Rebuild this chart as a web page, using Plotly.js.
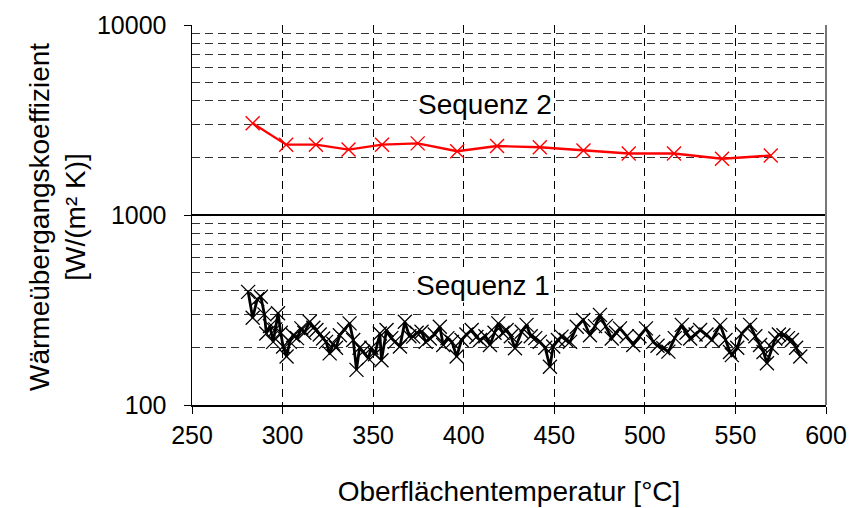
<!DOCTYPE html>
<html>
<head>
<meta charset="utf-8">
<script src="https://cdn.plot.ly/plotly-3.0.1.min.js"></script>
<style>html,body{margin:0;padding:0;background:#fff;}#chart{width:853px;height:508px;}</style>
</head>
<body>
<div id="chart"></div>
<script>
// Sequenz 2 (red)
var seq2X = [283.5, 302, 318.4, 336.4, 354.9, 374.6, 396.4, 418.4, 442, 466.1, 491.1, 516.1, 542.6, 569.5];
var seq2Y = [3036, 2345, 2345, 2209, 2345, 2382, 2165, 2307, 2271, 2183, 2106, 2106, 1976, 2056];

// Sequenz 1 (black)
var seq1X = [281, 283.5, 286, 288, 290, 291, 293, 294.8, 296, 297.5, 299, 300.3, 302.2, 304, 305.8, 308, 310.4, 312, 315, 317,
  318.7, 320.5, 322.4, 324, 326, 328, 329.5, 331.6, 334, 337, 339, 340.8, 342.5, 344.5, 347.3, 349, 351, 353.7, 354.6, 357.4,
  360, 362, 364.8, 367.5, 370, 372.1, 374, 376.7, 379, 381.3, 384, 386.8, 388.7, 391, 393.5, 396.1, 398.8, 401.5, 404.4, 407,
  409, 412, 414.5, 417, 419.1, 421.5, 423.7, 426, 428.3, 432, 434.7, 437, 439.5, 442, 445, 447.6, 449.4, 452, 454, 456.5,
  458.7, 462.4, 466, 469.7, 472.5, 475.2, 478.5, 481.7, 484, 486.3, 490, 493.6, 497, 500.6, 504.6, 507, 510.2, 513, 516.5, 520.4,
  523, 525, 528, 530.5, 534, 537, 541.6, 544.5, 547, 548, 551, 553.5, 558.1, 561, 563.6, 565.5, 567.4, 570, 572, 574,
  576.5, 579, 581.2, 583.5, 585.8];
var seq1Y = [394, 288, 360, 371, 300, 238, 260, 215, 250, 304, 240, 203, 180, 215, 233, 225, 253, 240, 274, 255,
  248, 235, 224, 215, 187, 210, 200, 233, 250, 269, 220, 153, 200, 191, 176, 200, 185, 238, 172, 248,
  225, 215, 203, 274, 230, 229, 240, 243, 215, 224, 235, 258, 207, 225, 215, 180, 220, 235, 248, 228,
  220, 230, 207, 240, 269, 240, 248, 230, 199, 243, 264, 230, 225, 215, 200, 159, 203, 220, 229, 220,
  215, 258, 280, 233, 260, 298, 260, 224, 240, 253, 230, 207, 230, 253, 215, 205, 199, 191, 225, 264,
  240, 224, 235, 248, 235, 220, 264, 220, 190, 183, 200, 238, 264, 230, 207, 190, 166, 200, 224, 235,
  233, 225, 220, 200, 180];

var yTickVals = [100, 1000, 10000];
var yTickText = ['100', '1000', '10000'];
var yMinorVals = [200, 300, 400, 500, 600, 700, 800, 900, 2000, 3000, 4000, 5000, 6000, 7000, 8000, 9000];
var xTickVals = [250, 300, 350, 400, 450, 500, 550, 600];

var font = 'Liberation Sans, Arial, sans-serif';
var tickSize = 25;
var titleSize = 28;

var traces = [
  {
    x: seq1X, y: seq1Y, type: 'scatter', mode: 'lines+markers', name: 'Sequenz 1',
    line: {color: '#000', width: 2.8},
    marker: {symbol: 'x-thin', size: 14, line: {color: '#000', width: 1.3}}
  },
  {
    x: seq2X, y: seq2Y, type: 'scatter', mode: 'lines+markers', name: 'Sequenz 2',
    line: {color: '#ff0000', width: 2.4},
    marker: {symbol: 'x-thin', size: 14, line: {color: '#ff0000', width: 1.4}}
  }
];

var layout = {
  width: 853, height: 508,
  margin: {l: 192, r: 27, t: 25, b: 103},
  paper_bgcolor: '#fff', plot_bgcolor: '#fff',
  showlegend: false,
  font: {family: font, color: '#000', size: tickSize},
  xaxis: {
    range: [250, 600], tickmode: 'array', tickvals: xTickVals,
    ticks: 'outside', ticklen: 7, tickcolor: '#000', tickwidth: 1,
    showline: true, linecolor: '#000', linewidth: 1.5,
    showgrid: true, gridcolor: '#000', gridwidth: 1, griddash: '8px,5px',
    zeroline: false,
    tickfont: {family: font, size: tickSize, color: '#000'},
    title: {text: 'Oberflächentemperatur [°C]', font: {family: font, size: titleSize, color: '#000'}, standoff: 34}
  },
  yaxis: {
    type: 'log', range: [2, 4], tickmode: 'array', tickvals: yTickVals, ticktext: yTickText,
    ticks: 'outside', ticklen: 7, tickcolor: '#000', tickwidth: 1,
    ticklabelstandoff: 12,
    showline: true, linecolor: '#000', linewidth: 1.5,
    showgrid: true, gridcolor: '#000', gridwidth: 1.2,
    zeroline: false,
    tickfont: {family: font, size: tickSize, color: '#000'},
    minor: {tickmode: 'array', tickvals: yMinorVals, showgrid: true, gridcolor: '#333', gridwidth: 1, griddash: '8px,5px', ticks: ''}
  },
  shapes: [
    {type: 'line', xref: 'paper', yref: 'paper', x0: 1, x1: 1, y0: 0, y1: 1, line: {color: '#777', width: 2}}
  ],
  annotations: [
    {text: 'Sequenz 2', xref: 'x', yref: 'y', x: 411.7, y: Math.log10(3793), showarrow: false,
     font: {family: font, size: titleSize, color: '#000'}, bgcolor: '#fff'},
    {text: 'Sequenz 1', xref: 'x', yref: 'y', x: 410.6, y: Math.log10(428), showarrow: false,
     font: {family: font, size: titleSize, color: '#000'}, bgcolor: '#fff'},
    {text: 'Wärmeübergangskoeffizient<br>[W/(m² K)]', xref: 'paper', yref: 'paper',
     x: (57 - 192) / 634, y: (405 - 217) / 380, xanchor: 'center', yanchor: 'middle', textangle: -90, showarrow: false,
     font: {family: font, size: titleSize, color: '#000'}}
  ]
};

Plotly.newPlot('chart', traces, layout, {displayModeBar: false, staticPlot: true});
</script>
</body>
</html>
